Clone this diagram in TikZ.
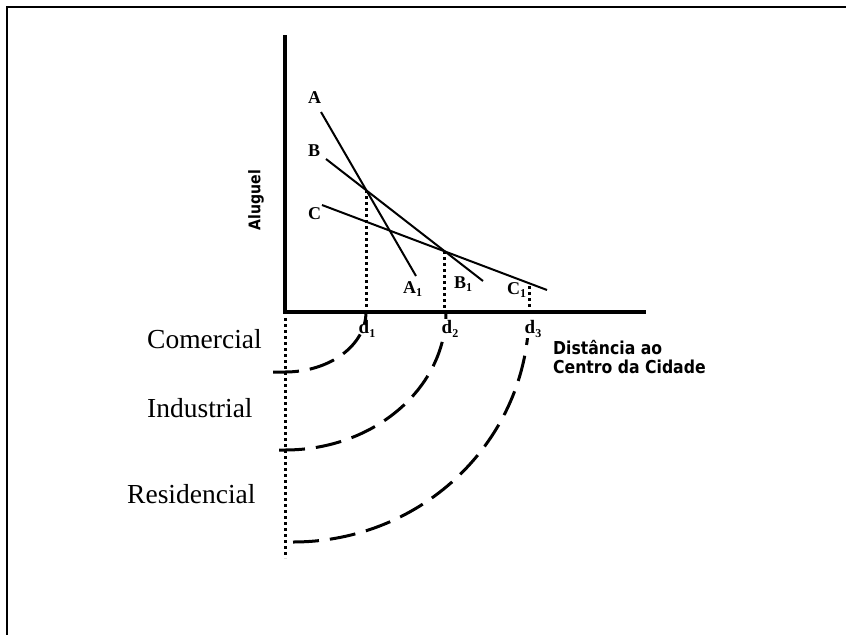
\documentclass[tikz,border=0pt]{standalone}
\usepackage{fontspec}
\setmainfont{Liberation Serif}
\newfontfamily\tah[FakeStretch=0.88]{DejaVu Sans}
\usetikzlibrary{intersections}
\newcommand\sbs[1]{\raisebox{-0.22em}{\fontsize{12}{12}\selectfont #1}}
\begin{document}
\begin{tikzpicture}[x=1pt,y=-1pt,
  axisline/.style={line width=3.5pt},
  rentline/.style={line width=2pt},
  dotv/.style={line width=3pt, dash pattern=on 3pt off 3pt},
  zone/.style={line width=3pt, dash pattern=on 26pt off 11pt},
  lbl/.style={font=\bfseries\fontsize{18}{18}\selectfont, inner sep=0pt},
  dlbl/.style={font=\bfseries\fontsize{19}{19}\selectfont, inner sep=0.5pt, anchor=base west},
  zlbl/.style={font=\fontsize{27.5}{28}\selectfont, inner sep=0pt, anchor=base west},
  slbl/.style={font=\tah\bfseries\fontsize{17.8}{19}\selectfont, inner sep=0pt, anchor=base west}]
\useasboundingbox (0,0) rectangle (846,635);
% frame
\draw[line width=2pt] (846,7) -- (7,7) -- (7,635);
% axes
\coordinate (O) at (285,312);
\coordinate (Ytop) at (285,35);
\coordinate (Xend) at (646,312);
\draw[axisline] (Ytop) -- (O) -- (Xend);
% rent lines
\coordinate (As) at (321,112); \coordinate (Ae) at (416,276);
\coordinate (Bs) at (326,159); \coordinate (Be) at (483,281);
\coordinate (Cs) at (322,205); \coordinate (Ce) at (547,290);
\draw[rentline, name path=pa] (As) -- (Ae);
\draw[rentline, name path=pb] (Bs) -- (Be);
\draw[rentline, name path=pc] (Cs) -- (Ce);
\path[name intersections={of=pa and pb, by=P1}];
\path[name intersections={of=pb and pc, by=P2}];
\coordinate (P3) at (529,286);
% dotted verticals
\draw[dotv] (P1) -- (P1 |- O);
\draw[dotv] (P2) -- (P2 |- O);
\draw[dotv] (P3) -- (P3 |- O);
\coordinate (Vs) at (285,318); \coordinate (Ve) at (285,558);
\draw[dotv] (Vs) -- (Ve);
% zone arcs
\coordinate (Z1) at (273,372);
\coordinate (Z2) at (279,450);
\coordinate (Z3) at (293,542);
\draw[zone] (Z1) -- ++(12,0) arc[start angle=270, end angle=360, x radius=81pt, y radius=60pt];
\draw[zone] (Z2) -- ++(6,0) arc[start angle=270, end angle=360, x radius=161pt, y radius=138pt];
\draw[zone] (Z3) arc[start angle=270, end angle=360, x radius=236pt, y radius=230pt];
% labels
\node[lbl] (lA) at (314.5,98) {A};
\node[lbl] (lB) at (314,151) {B};
\node[lbl] (lC) at (314.5,214) {C};
\node[lbl, anchor=base west] (lA1) at (403,293) {A\sbs{1}};
\node[lbl, anchor=base west] (lB1) at (454,288) {B\sbs{1}};
\node[lbl, anchor=base west] (lC1) at (507,294) {C\sbs{1}};
\node[dlbl] (d1) at (358,333) {d\sbs{1}};
\node[dlbl, fill=white] (d2) at (441,333) {d\sbs{2}};
\node[dlbl, fill=white] (d3) at (524,333) {d\sbs{3}};
\node[slbl] (dist1) at (553,354) {Distância ao};
\node[slbl] (dist2) at (553,373) {Centro da Cidade};
\node[font=\tah\bfseries\fontsize{16}{16}\selectfont, inner sep=0pt, rotate=90] (alug) at (256,200) {Aluguel};
\node[zlbl] (com) at (147,348) {Comercial};
\node[zlbl] (ind) at (147,417) {Industrial};
\node[zlbl] (res) at (127,503) {Residencial};
\end{tikzpicture}
\end{document}
